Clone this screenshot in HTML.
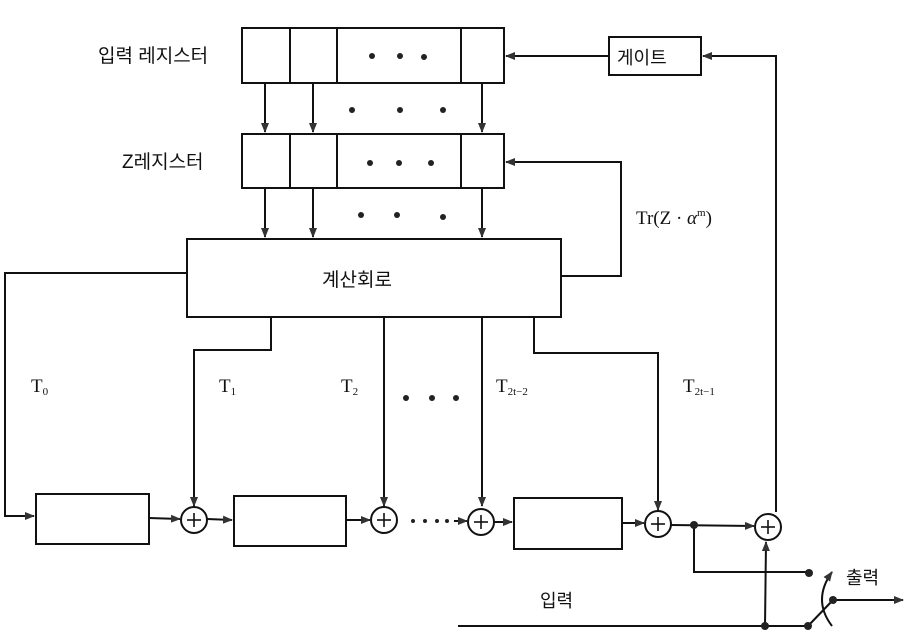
<!DOCTYPE html>
<html><head><meta charset="utf-8"><style>
body{margin:0;background:#fff;}
svg{display:block;}
text{font-family:"Liberation Serif","Noto Sans CJK KR",serif;fill:#111;}
.k{font-family:"Liberation Sans","Noto Sans CJK KR","NanumGothic",sans-serif;}
</style></head><body>
<svg width="914" height="644" viewBox="0 0 914 644" xmlns="http://www.w3.org/2000/svg">
<defs>
<marker id="a" markerWidth="10" markerHeight="8" refX="9" refY="4" orient="auto" markerUnits="userSpaceOnUse">
<path d="M0,0 L10,4 L0,8 Z" fill="#333"/></marker>
</defs>
<g stroke="#111" stroke-width="2" fill="none">
<!-- input register -->
<rect x="242" y="28" width="262" height="55"/>
<line x1="290" y1="28" x2="290" y2="83"/><line x1="337" y1="28" x2="337" y2="83"/><line x1="461" y1="28" x2="461" y2="83"/>
<!-- Z register -->
<rect x="242" y="134" width="262" height="54"/>
<line x1="290" y1="134" x2="290" y2="188"/><line x1="337" y1="134" x2="337" y2="188"/><line x1="461" y1="134" x2="461" y2="188"/>
<!-- gate -->
<rect x="609" y="37" width="92" height="38"/>
<line x1="609" y1="56" x2="506" y2="56" marker-end="url(#a)"/>
<polyline points="776,512 776,56 703,56" marker-end="url(#a)"/>
<!-- arrows input->Z -->
<line x1="265" y1="83" x2="265" y2="132" marker-end="url(#a)"/>
<line x1="313" y1="83" x2="313" y2="132" marker-end="url(#a)"/>
<line x1="482" y1="83" x2="482" y2="132" marker-end="url(#a)"/>
<!-- Z->compute -->
<line x1="265" y1="188" x2="265" y2="237" marker-end="url(#a)"/>
<line x1="313" y1="188" x2="313" y2="237" marker-end="url(#a)"/>
<line x1="482" y1="188" x2="482" y2="237" marker-end="url(#a)"/>
<!-- compute box -->
<rect x="187" y="239" width="374" height="78"/>
<polyline points="561,276 621,276 621,162 506,162" marker-end="url(#a)"/>
<polyline points="187,273 5,273 5,516 34,516" marker-end="url(#a)"/>
<polyline points="271,317 271,350 194,350 194,506" marker-end="url(#a)"/>
<line x1="384" y1="317" x2="384" y2="506" marker-end="url(#a)"/>
<line x1="482" y1="317" x2="482" y2="506" marker-end="url(#a)"/>
<polyline points="534,317 534,353 658,353 658,510" marker-end="url(#a)"/>
<!-- bottom row boxes -->
<rect x="36" y="494" width="113" height="50"/>
<rect x="234" y="496" width="112" height="50"/>
<rect x="514" y="498" width="108" height="51"/>
<!-- adders -->
<circle cx="194" cy="520" r="13"/><circle cx="384" cy="520" r="13"/><circle cx="481" cy="522" r="13"/>
<circle cx="658" cy="524" r="13"/><circle cx="768" cy="527" r="13"/>
<line x1="149" y1="518" x2="180" y2="519" marker-end="url(#a)"/>
<line x1="207" y1="519" x2="232" y2="520" marker-end="url(#a)"/>
<line x1="346" y1="520" x2="370" y2="520" marker-end="url(#a)"/>
<line x1="454" y1="521" x2="467" y2="521" marker-end="url(#a)"/>
<line x1="494" y1="522" x2="512" y2="522" marker-end="url(#a)"/>
<line x1="622" y1="523" x2="644" y2="523" marker-end="url(#a)"/>
<line x1="671" y1="525" x2="754" y2="526" marker-end="url(#a)"/>
<polyline points="694,525 694,572 809,572"/>
<line x1="458" y1="626" x2="808" y2="626"/>
<line x1="765" y1="626" x2="766" y2="542" marker-end="url(#a)"/>
<line x1="808" y1="626" x2="833" y2="600"/>
<line x1="833" y1="600" x2="903" y2="600" marker-end="url(#a)"/>
<path d="M832,626 Q812,600 832,572" marker-end="url(#a)"/>
</g>
<g stroke="#111" stroke-width="1.6">
<line x1="188" y1="512" x2="188" y2="512"/>
<line x1="194" y1="513" x2="194" y2="527"/><line x1="187" y1="520" x2="201" y2="520"/>
<line x1="384" y1="513" x2="384" y2="527"/><line x1="377" y1="520" x2="391" y2="520"/>
<line x1="481" y1="515" x2="481" y2="529"/><line x1="474" y1="522" x2="488" y2="522"/>
<line x1="658" y1="517" x2="658" y2="531"/><line x1="651" y1="524" x2="665" y2="524"/>
<line x1="768" y1="520" x2="768" y2="534"/><line x1="761" y1="527" x2="775" y2="527"/>
</g>
<g fill="#222">
<circle cx="372" cy="56" r="3"/><circle cx="400" cy="56" r="3"/><circle cx="424" cy="57" r="3"/>
<circle cx="352" cy="110" r="3"/><circle cx="400" cy="110" r="3"/><circle cx="443" cy="110" r="3"/>
<circle cx="370" cy="163" r="3"/><circle cx="399" cy="163" r="3"/><circle cx="431" cy="163" r="3"/>
<circle cx="361" cy="215" r="3"/><circle cx="397" cy="215" r="3"/><circle cx="443" cy="217" r="3"/>
<circle cx="406" cy="398" r="3"/><circle cx="432" cy="398" r="3"/><circle cx="456" cy="398" r="3"/>
<circle cx="413" cy="521" r="2"/><circle cx="425" cy="521" r="2"/><circle cx="437" cy="521" r="2"/><circle cx="447" cy="521" r="2"/>
<circle cx="694" cy="525" r="4"/><circle cx="809" cy="573" r="4"/><circle cx="765" cy="626" r="4"/><circle cx="808" cy="626" r="4"/><circle cx="833" cy="600" r="4"/>
</g>
<text class="k" x="98" y="62" font-size="19">입력 레지스터</text>
<text class="k" x="122" y="168" font-size="19">Z레지스터</text>
<text class="k" x="617" y="64" font-size="18">게이트</text>
<text class="k" x="322" y="286" font-size="19">계산회로</text>
<text x="636" y="224" font-size="19">Tr(Z · <tspan font-style="italic">α</tspan><tspan font-size="11" dy="-8">m</tspan><tspan dy="8">)</tspan></text>
<text x="31" y="392" font-size="19">T<tspan font-size="11" dy="3">0</tspan></text>
<text x="219" y="392" font-size="19">T<tspan font-size="11" dy="3">1</tspan></text>
<text x="341" y="392" font-size="19">T<tspan font-size="11" dy="3">2</tspan></text>
<text x="496" y="392" font-size="19">T<tspan font-size="11" dy="3">2t−2</tspan></text>
<text x="683" y="392" font-size="19">T<tspan font-size="11" dy="3">2t−1</tspan></text>
<text class="k" x="540" y="607" font-size="18">입력</text>
<text class="k" x="846" y="584" font-size="18">출력</text>
</svg>
</body></html>
